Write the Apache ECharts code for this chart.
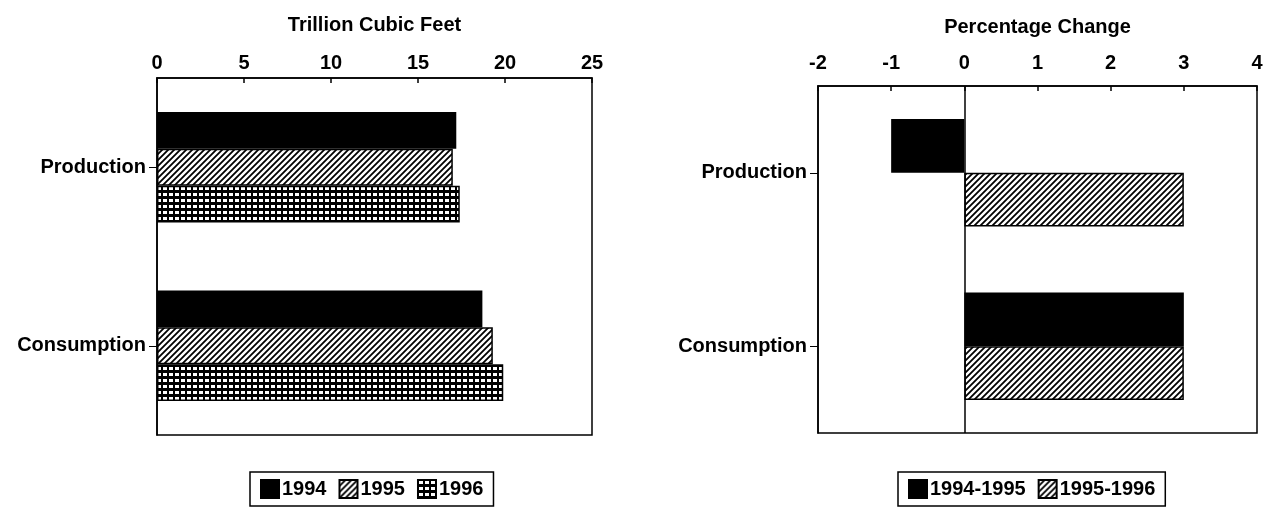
<!DOCTYPE html>
<html>
<head>
<meta charset="utf-8">
<script src="https://cdn.jsdelivr.net/npm/echarts@6/dist/echarts.min.js"></script>
<style>
  html, body { margin: 0; padding: 0; background: #fff; }
  #main { width: 1268px; height: 519px; }
</style>
</head>
<body>
<div id="main"></div>
<script>
// data
var categories = ['Production', 'Consumption'];
var volumeYears = ['1994', '1995', '1996'];
var volume1994 = [17.2, 18.7];
var volume1995 = [17.0, 19.3];
var volume1996 = [17.4, 19.9];
var changePeriods = ['1994-1995', '1995-1996'];
var change9495 = [-1.0, 3.0];
var change9596 = [3.0, 3.0];
var volumeTicks = { min: 0, max: 25, interval: 5 };
var changeTicks = { min: -2, max: 4, interval: 1 };

// fill patterns
function hatchTile() {
  var c = document.createElement('canvas');
  c.width = 6; c.height = 6;
  var g = c.getContext('2d');
  g.fillStyle = '#fff'; g.fillRect(0, 0, 6, 6);
  g.strokeStyle = '#000'; g.lineWidth = 1.8;
  g.beginPath();
  g.moveTo(-1, 7); g.lineTo(7, -1);
  g.moveTo(-1, 1); g.lineTo(1, -1);
  g.moveTo(5, 7); g.lineTo(7, 5);
  g.stroke();
  return c;
}
function gridTile() {
  var c = document.createElement('canvas');
  c.width = 6; c.height = 6;
  var g = c.getContext('2d');
  g.fillStyle = '#000'; g.fillRect(0, 0, 6, 6);
  g.fillStyle = '#fff'; g.fillRect(1, 1, 4, 3);
  return c;
}
var solid = '#000';
var hatch = { image: hatchTile(), repeat: 'repeat' };
var cross = { image: gridTile(), repeat: 'repeat' };

var font = 'Liberation Sans';
var fsize = 20;
var weight = 'bold';

function valueAxis(gridIndex, name, ticks, gap, labelMargin) {
  return {
    gridIndex: gridIndex,
    type: 'value',
    position: 'top',
    min: ticks.min,
    max: ticks.max,
    interval: ticks.interval,
    name: name,
    nameLocation: 'middle',
    nameGap: gap,
    nameTextStyle: { color: '#000', fontFamily: font, fontSize: fsize, fontWeight: weight },
    axisLine: { show: true, onZero: false, lineStyle: { color: '#000', width: 1.5 } },
    axisTick: { show: true, inside: true, length: 5, lineStyle: { color: '#000', width: 1.5 } },
    axisLabel: { color: '#000', fontFamily: font, fontSize: fsize, fontWeight: weight, margin: labelMargin },
    splitLine: { show: false }
  };
}
function catAxis(gridIndex) {
  return {
    gridIndex: gridIndex,
    type: 'category',
    inverse: true,
    data: categories,
    axisLine: { show: true, onZero: false, lineStyle: { color: '#000', width: 1.5 } },
    axisTick: { show: true, alignWithLabel: true, length: 8, lineStyle: { color: '#000', width: 1 } },
    axisLabel: { color: '#000', fontFamily: font, fontSize: fsize, fontWeight: weight, margin: 11 }
  };
}
function bar(name, axisIndex, data, color) {
  return {
    name: name,
    type: 'bar',
    xAxisIndex: axisIndex,
    yAxisIndex: axisIndex,
    data: data,
    barGap: 0,
    barCategoryGap: '38%',
    itemStyle: { color: color, borderColor: '#000', borderWidth: 1.5 },
    emphasis: { disabled: true }
  };
}

var legendBase = {
  orient: 'horizontal',
  icon: 'rect',
  itemWidth: 18,
  itemHeight: 18,
  itemGap: 12,
  padding: [7, 10, 7, 10],
  borderColor: '#000',
  borderWidth: 1.5,
  selectedMode: false,
  textStyle: { color: '#000', fontFamily: font, fontSize: fsize, fontWeight: weight, padding: [0, 0, 0, -2] }
};

var myChart = echarts.init(document.getElementById('main'));
var option = {
  backgroundColor: '#fff',
  animation: false,
  legend: [
    Object.assign({}, legendBase, { data: volumeYears, left: 250, top: 472 }),
    Object.assign({}, legendBase, { data: changePeriods, left: 898, top: 472 })
  ],
  grid: [
    { left: 157, right: 676, top: 78, bottom: 84, show: true, borderColor: '#000', borderWidth: 1.5 },
    { left: 818, right: 11, top: 86, bottom: 86, show: true, borderColor: '#000', borderWidth: 1.5 }
  ],
  xAxis: [
    valueAxis(0, 'Trillion Cubic Feet', volumeTicks, 43, 5),
    valueAxis(1, 'Percentage Change', changeTicks, 49, 13)
  ],
  yAxis: [catAxis(0), catAxis(1)],
  series: [
    bar('1994', 0, volume1994, solid),
    bar('1995', 0, volume1995, hatch),
    bar('1996', 0, volume1996, cross),
    Object.assign(bar('1994-1995', 1, change9495, solid), {
      markLine: {
        silent: true,
        symbol: 'none',
        label: { show: false },
        lineStyle: { color: '#000', width: 1.5, type: 'solid' },
        data: [{ xAxis: 0 }]
      }
    }),
    bar('1995-1996', 1, change9596, hatch)
  ]
};
myChart.setOption(option);
</script>
</body>
</html>
